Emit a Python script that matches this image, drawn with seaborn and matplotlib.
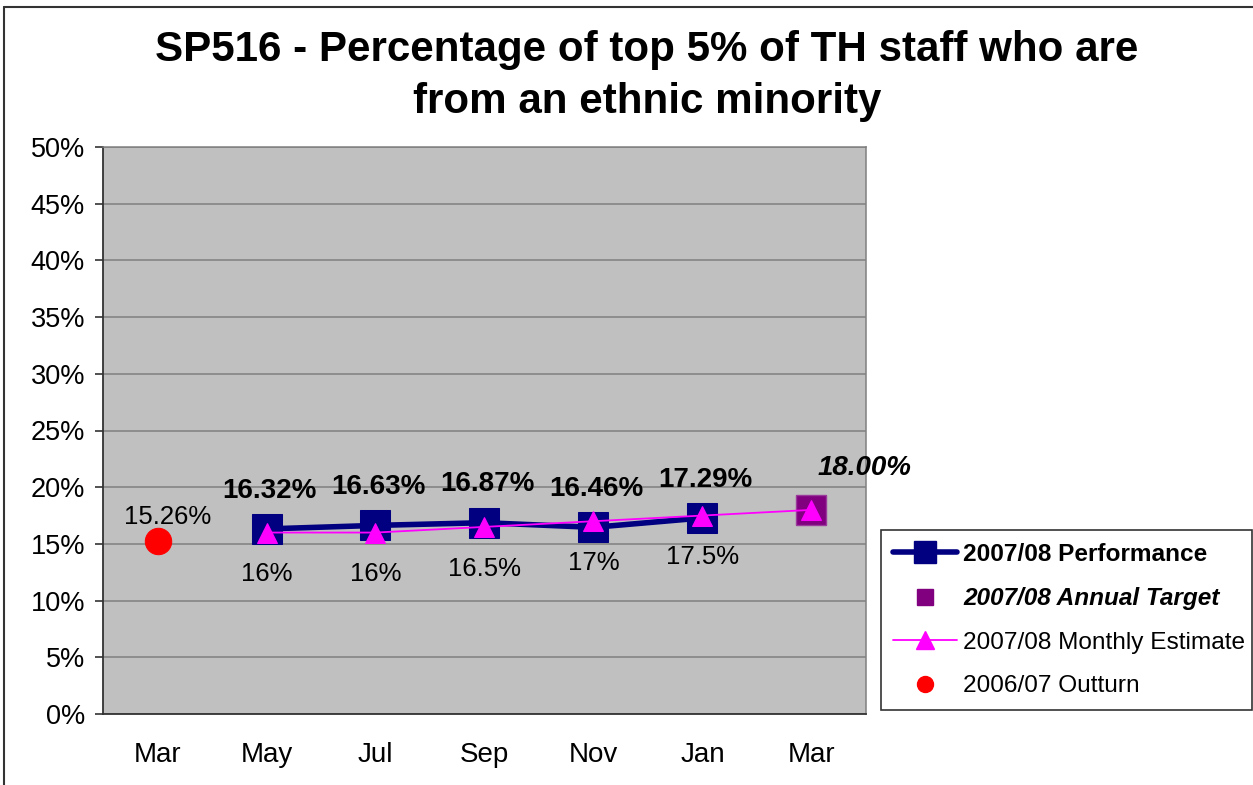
import matplotlib
matplotlib.use("Agg")
import matplotlib.pyplot as plt
from matplotlib.lines import Line2D
import seaborn as sns
import pandas as pd

# Categories along the x axis (Mar 2007 outturn, then bi-monthly through Mar 2008)
months = ["Mar", "May", "Jul", "Sep", "Nov", "Jan", "Mar"]

# 2007/08 Performance (May..Jan)
perf_idx = [1, 2, 3, 4, 5]
perf_vals = [16.32, 16.63, 16.87, 16.46, 17.29]

# 2007/08 Annual Target (Mar 2008)
target_idx = [6]
target_vals = [18.00]

# 2007/08 Monthly Estimate (May..Mar)
est_idx = [1, 2, 3, 4, 5, 6]
est_vals = [16.0, 16.0, 16.5, 17.0, 17.5, 18.0]
est_labels = ["16%", "16%", "16.5%", "17%", "17.5%"]

# 2006/07 Outturn (Mar 2007)
outturn_idx = [0]
outturn_vals = [15.26]

yticks = list(range(0, 51, 5))

sns.set_theme(style="white")
plt.rcParams["font.family"] = ["Liberation Sans", "DejaVu Sans"]
plt.rcParams["text.color"] = "black"
plt.rcParams["xtick.color"] = "black"
plt.rcParams["ytick.color"] = "black"
plt.rcParams["xtick.labelcolor"] = "black"
plt.rcParams["ytick.labelcolor"] = "black"

W, H = 1253, 785
fig = plt.figure(figsize=(W / 100, H / 100), dpi=100)
fig.patch.set_facecolor("white")

ax = fig.add_axes([103 / W, (H - 714) / H, (866 - 103) / W, (714 - 147) / H])
ax.set_facecolor("#C0C0C0")

NAVY = "#000080"
MAGENTA = "#FF00FF"
PURPLE = "#800080"
RED = "#FF0000"

perf_df = pd.DataFrame({"x": perf_idx, "y": perf_vals})
target_df = pd.DataFrame({"x": target_idx, "y": target_vals})
est_df = pd.DataFrame({"x": est_idx, "y": est_vals})
out_df = pd.DataFrame({"x": outturn_idx, "y": outturn_vals})

sns.lineplot(data=perf_df, x="x", y="y", ax=ax, color=NAVY, linewidth=4,
             marker="s", markersize=22, markerfacecolor=NAVY,
             markeredgecolor=NAVY, zorder=3, legend=False)
sns.lineplot(data=target_df, x="x", y="y", ax=ax, color=PURPLE, linewidth=0,
             marker="s", markersize=21, markerfacecolor=PURPLE,
             markeredgecolor="#9a3a9a", markeredgewidth=1, zorder=3, legend=False)
sns.lineplot(data=est_df, x="x", y="y", ax=ax, color=MAGENTA, linewidth=1.3,
             marker="^", markersize=15, markerfacecolor=MAGENTA,
             markeredgecolor=MAGENTA, zorder=4, legend=False)
sns.lineplot(data=out_df, x="x", y="y", ax=ax, color=RED, linewidth=0,
             marker="o", markersize=19, markerfacecolor=RED,
             markeredgecolor=RED, zorder=4, legend=False)

# Value labels
for xi, v in zip(perf_idx, perf_vals):
    ax.annotate(f"{v:.2f}%", (xi, v), xytext=(2, 27.5), textcoords="offset points",
                ha="center", va="center", fontsize=20, fontweight="bold", color="black")
for xi, v, lab in zip(est_idx, est_vals, est_labels):
    ax.annotate(lab, (xi, v), xytext=(0, -30), textcoords="offset points",
                ha="center", va="center", fontsize=18.5, color="black")
for xi, v in zip(target_idx, target_vals):
    ax.annotate(f"{v:.2f}%", (xi, v), xytext=(38, 30.5), textcoords="offset points",
                ha="center", va="center", fontsize=20, fontweight="bold",
                fontstyle="italic", color="black")
for xi, v in zip(outturn_idx, outturn_vals):
    ax.annotate(f"{v:.2f}%", (xi, v), xytext=(7, 17), textcoords="offset points",
                ha="center", va="center", fontsize=18.5, color="black")

# Axes scales and ticks
ax.set_xlim(-0.5, len(months) - 0.5)
ax.set_ylim(0, 50)
ax.set_yticks(yticks)
ax.set_yticklabels([f"{t}%" for t in yticks], fontsize=19.5)
ax.set_xticks(range(len(months)))
ax.set_xticklabels(months, fontsize=20)
ax.set_xticks([i - 0.5 for i in range(len(months) + 1)], minor=True)
ax.tick_params(axis="x", which="major", length=0, pad=20)
ax.tick_params(axis="x", which="minor", length=6, width=1.2, color="#333333", direction="out")
ax.tick_params(axis="y", which="major", length=6, width=1.2, color="#333333",
               direction="out", pad=7, left=True)
ax.set_xlabel("")
ax.set_ylabel("")

ax.yaxis.grid(True, color="#808080", linewidth=1.1)
ax.xaxis.grid(False)
ax.set_axisbelow(True)
for side in ["left", "bottom"]:
    ax.spines[side].set_color("#333333")
    ax.spines[side].set_linewidth(1.3)
for side in ["top", "right"]:
    ax.spines[side].set_color("#808080")
    ax.spines[side].set_linewidth(1.1)

# Title
fig.text(647 / W, 1 - 76 / H, "SP516 - Percentage of top 5% of TH staff who are\nfrom an ethnic minority",
         ha="center", va="center", fontsize=30.3, fontweight="bold", linespacing=1.38,
         color="black")

# Legend
handles = [
    Line2D([], [], color=NAVY, linewidth=4, marker="s", markersize=16.5,
           markerfacecolor=NAVY, markeredgecolor=NAVY),
    Line2D([], [], color=PURPLE, linewidth=0, marker="s", markersize=11,
           markerfacecolor=PURPLE, markeredgecolor=PURPLE),
    Line2D([], [], color=MAGENTA, linewidth=1.3, marker="^", markersize=12.5,
           markerfacecolor=MAGENTA, markeredgecolor=MAGENTA),
    Line2D([], [], color=RED, linewidth=0, marker="o", markersize=11.5,
           markerfacecolor=RED, markeredgecolor=RED),
]
names = ["2007/08 Performance", "2007/08 Annual Target",
         "2007/08 Monthly Estimate", "2006/07 Outturn"]
leg = fig.legend(handles, names, loc="center left",
                 bbox_to_anchor=(881 / W, (H - 713) / H, 371 / W, 186 / H),
                 mode="expand", fontsize=17.6, frameon=True, fancybox=False,
                 edgecolor="black", handlelength=2.6, handletextpad=0.25,
                 labelspacing=0.88, borderpad=0.5, borderaxespad=0)
leg.get_frame().set_linewidth(1.2)
texts = leg.get_texts()
for t in texts:
    t.set_color("black")
texts[0].set_fontweight("bold")
texts[1].set_fontweight("bold")
texts[1].set_fontstyle("italic")

# Outer chart frame
fig.add_artist(Line2D([4 / W, 4 / W], [0, 1 - 7 / H], transform=fig.transFigure,
                      color="#333333", linewidth=1.5))
fig.add_artist(Line2D([4 / W, 1], [1 - 7 / H, 1 - 7 / H], transform=fig.transFigure,
                      color="#333333", linewidth=1.5))

fig.savefig("out.png", dpi=100)
